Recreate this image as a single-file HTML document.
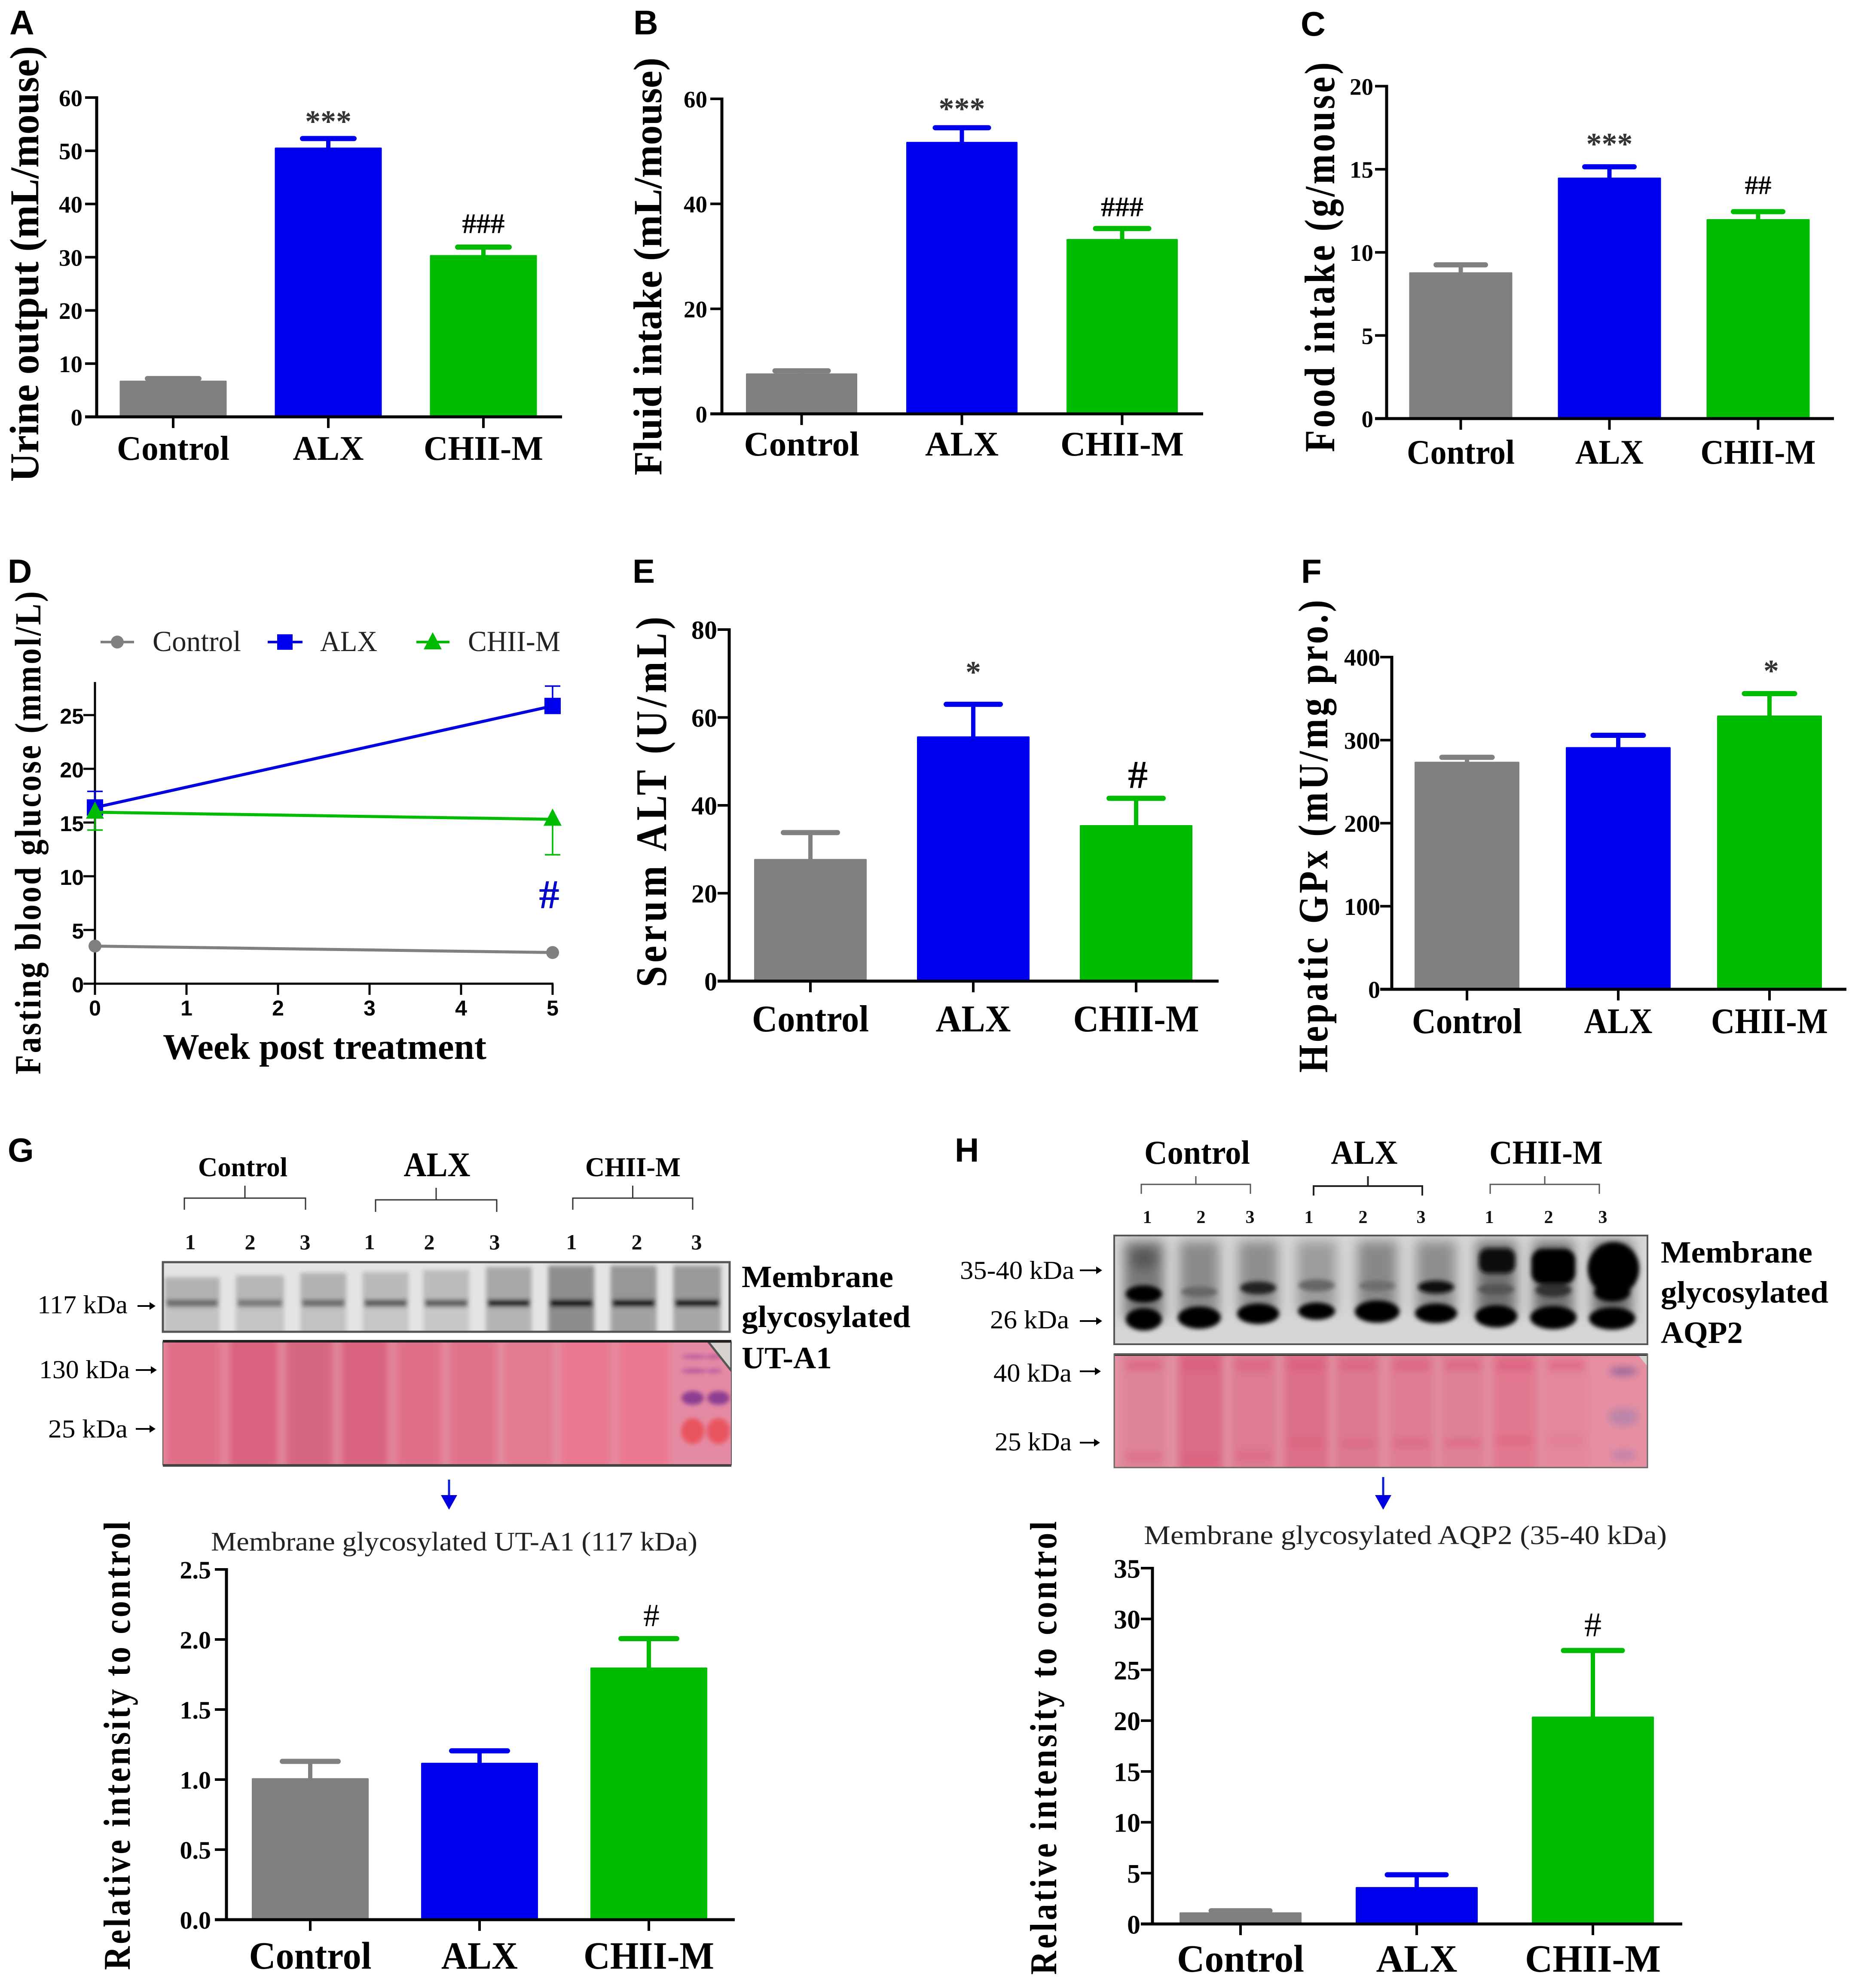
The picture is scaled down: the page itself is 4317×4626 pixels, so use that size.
<!DOCTYPE html>
<html lang="en">
<head>
<meta charset="utf-8">
<title>Figure panels A-H</title>
<style>
html,body{margin:0;padding:0;background:#fff;}
svg{display:block;}
text{font-family:"Liberation Serif",serif;}
</style>
</head>
<body>
<svg id="figure" xmlns="http://www.w3.org/2000/svg" width="4317" height="4626" viewBox="0 0 4317 4626">
<defs>
<filter id="blur-strong" filterUnits="userSpaceOnUse" x="0" y="2600" width="4317" height="1000"><feGaussianBlur stdDeviation="9"/></filter>
<filter id="blur-wide" filterUnits="userSpaceOnUse" x="0" y="2600" width="4317" height="1000"><feGaussianBlur stdDeviation="14"/></filter>
<filter id="blur-mid" filterUnits="userSpaceOnUse" x="0" y="2600" width="4317" height="1000"><feGaussianBlur stdDeviation="5"/></filter>
<clipPath id="clip-g-upper"><rect x="379" y="2937" width="1319" height="162"/></clipPath>
<clipPath id="clip-g-pink"><rect x="379" y="3121" width="1323" height="290"/></clipPath>
<clipPath id="clip-h-upper"><rect x="2593" y="2875" width="1241" height="253"/></clipPath>
<clipPath id="clip-h-pink"><rect x="2593" y="3151" width="1241" height="264"/></clipPath>
</defs>
</svg>
<script>
// ---------- chart data ----------
const categories = ['Control', 'ALX', 'CHII-M'];

const panelAValues = [6.8, 50.6, 30.4];
const panelAErrors = [0.4, 1.7, 1.5];
const panelATicks = [0, 10, 20, 30, 40, 50, 60];
const panelATickLabels = ['0', '10', '20', '30', '40', '50', '60'];
const panelAMarks = ['', '***', '###'];

const panelBValues = [7.7, 51.8, 33.3];
const panelBErrors = [0.5, 2.7, 2.0];
const panelBTicks = [0, 20, 40, 60];
const panelBTickLabels = ['0', '20', '40', '60'];
const panelBMarks = ['', '***', '###'];

const panelCValues = [8.8, 14.5, 12.0];
const panelCErrors = [0.45, 0.65, 0.45];
const panelCTicks = [0, 5, 10, 15, 20];
const panelCTickLabels = ['0', '5', '10', '15', '20'];
const panelCMarks = ['', '***', '##'];

const panelEValues = [27.8, 55.7, 35.5];
const panelEErrors = [6.0, 7.3, 6.1];
const panelETicks = [0, 20, 40, 60, 80];
const panelETickLabels = ['0', '20', '40', '60', '80'];
const panelEMarks = ['', '*', '#'];

const panelFValues = [274, 291.6, 329.6];
const panelFErrors = [5.3, 14.2, 26.4];
const panelFTicks = [0, 100, 200, 300, 400];
const panelFTickLabels = ['0', '100', '200', '300', '400'];
const panelFMarks = ['', '', '*'];

const panelGValues = [1.01, 1.12, 1.80];
const panelGErrors = [0.12, 0.085, 0.206];
const panelGTicks = [0, 0.5, 1, 1.5, 2, 2.5];
const panelGTickLabels = ['0.0', '0.5', '1.0', '1.5', '2.0', '2.5'];
const panelGMarks = ['', '', '#'];

const panelHValues = [1.14, 3.63, 20.4];
const panelHErrors = [0.16, 1.21, 6.5];
const panelHTicks = [0, 5, 10, 15, 20, 25, 30, 35];
const panelHTickLabels = ['0', '5', '10', '15', '20', '25', '30', '35'];
const panelHMarks = ['', '', '#'];

const panelDWeeks = [0, 5];
const panelDControl = [3.5, 2.9];
const panelDAlx = [16.4, 25.85];
const panelDAlxUpper = [17.9, 27.7];
const panelDChii = [15.96, 15.3];
const panelDChiiLower = [14.3, 12.0];
const panelDYTicks = [0, 5, 10, 15, 20, 25];
const panelDYTickLabels = ['0', '5', '10', '15', '20', '25'];
const panelDXTicks = [0, 1, 2, 3, 4, 5];
const panelDXTickLabels = ['0', '1', '2', '3', '4', '5'];

// ---------- helpers ----------
const SVG_NS = 'http://www.w3.org/2000/svg';
const root = document.getElementById('figure');
const seriesColors = ['#808080', '#0000f0', '#00bc00'];

function make(parent, tag, attrs, name) {
  const el = document.createElementNS(SVG_NS, tag);
  for (const key in attrs) el.setAttribute(key, attrs[key]);
  
  
  parent.appendChild(el);
  return el;
}
function label(parent, str, attrs, name) {
  const el = make(parent, 'text', attrs, name);
  el.textContent = str;
  return el;
}
function fitted(parent, str, x, y, anchorCenter, size, width, weight, name, fill) {
  const attrs = {
    x: x, y: y, 'font-size': size, 'font-weight': weight,
    fill: fill || '#000', 'text-anchor': anchorCenter ? 'middle' : 'start',
    textLength: width, lengthAdjust: 'spacingAndGlyphs'
  };
  return label(parent, str, attrs, name);
}
function panelLetter(str, x, y, size) {
  label(root, str, {
    x: x, y: y, 'font-size': size, 'font-weight': 'bold', fill: '#000',
    style: 'font-family:"Liberation Sans",sans-serif'
  }, 'panel-letter-' + str.toLowerCase());
}
function yTitle(parent, str, cfg, name) {
  const stretch = cfg.stretch || 1;
  label(parent, str, {
    x: 0, y: 0, 'font-size': cfg.size, 'font-weight': 'bold', fill: '#000',
    transform: 'translate(' + cfg.x + ' ' + cfg.bottom + ') rotate(-90) scale(1 ' + stretch + ')',
    textLength: cfg.bottom - cfg.top, lengthAdjust: cfg.adjust || 'spacingAndGlyphs'
  }, name);
}

// ---------- bar panels ----------
function drawBarPanel(id, layout, values, errors, ticks, tickLabels, marks) {
  const g = make(root, 'g', {}, 'bar-panel-' + id);
  const maxTick = ticks[ticks.length - 1];
  const yScale = function (v) { return layout.y0 - (layout.y0 - layout.yTop) * v / maxTick; };
  const xBand = function (i) { return layout.cx0 + layout.step * i; };

  values.forEach(function (v, i) {
    const cx = xBand(i);
    const top = yScale(v);
    const capY = yScale(v + errors[i]);
    const color = seriesColors[i];
    make(g, 'line', { x1: cx, x2: cx, y1: capY, y2: top + 4, stroke: color, 'stroke-width': 10 }, 'error-stem-' + categories[i].toLowerCase());
    make(g, 'line', { x1: cx - layout.capW / 2 + 5, x2: cx + layout.capW / 2 - 5, y1: capY, y2: capY, stroke: color, 'stroke-width': 12, 'stroke-linecap': 'round' }, 'error-cap-' + categories[i].toLowerCase());
    make(g, 'rect', { x: cx - layout.barW / 2, y: top, width: layout.barW, height: layout.y0 - top, fill: color, rx: 2 }, 'bar-' + categories[i].toLowerCase());
    if (marks[i]) {
      const m = layout.marks[marks[i]];
      label(g, marks[i], {
        x: cx + (m.dx || 0), y: capY - m.gap, 'font-size': m.size, 'font-weight': m.weight || 'bold',
        'text-anchor': 'middle', fill: marks[i].charAt(0) === '*' ? '#333' : '#000'
      }, 'significance-' + categories[i].toLowerCase());
    }
    make(g, 'line', { x1: cx, x2: cx, y1: layout.y0, y2: layout.y0 + 26, stroke: '#000', 'stroke-width': 6 }, 'x-tick-' + categories[i].toLowerCase());
    fitted(g, categories[i], cx, layout.catBase, true, layout.catSize, layout.catW[i], 'bold', 'x-label-' + categories[i].toLowerCase());
  });
  make(g, 'line', { x1: layout.x0, x2: layout.x0, y1: layout.yTop - 3, y2: layout.y0 + 3, stroke: '#000', 'stroke-width': 7 }, 'y-axis');
  make(g, 'line', { x1: layout.x0 - 27, x2: layout.xEnd, y1: layout.y0, y2: layout.y0, stroke: '#000', 'stroke-width': 7 }, 'x-axis');
  ticks.forEach(function (t, i) {
    const y = yScale(t);
    make(g, 'line', { x1: layout.x0 - 27, x2: layout.x0, y1: y, y2: y, stroke: '#000', 'stroke-width': 6 }, 'y-tick');
    label(g, tickLabels[i], {
      x: layout.tickEnd, y: y + layout.tickSize * 0.36, 'font-size': layout.tickSize,
      'font-weight': 'bold', 'text-anchor': 'end', fill: '#000'
    }, 'y-tick-label');
  });
  yTitle(g, layout.title, layout.titleCfg, 'y-axis-title');
}

drawBarPanel('a', {
  x0: 225, xEnd: 1308, y0: 970, yTop: 227, cx0: 403, step: 361, barW: 249, capW: 130,
  tickEnd: 192, tickSize: 55, catBase: 1070, catSize: 80, catW: [262, 165, 278],
  title: 'Urine output (mL/mouse)', titleCfg: { x: 89, top: 107, bottom: 1121, size: 95 },
  marks: { '***': { size: 72, gap: 16 }, '###': { size: 66, gap: 33 } }
}, panelAValues, panelAErrors, panelATicks, panelATickLabels, panelAMarks);

drawBarPanel('b', {
  x0: 1680, xEnd: 2800, y0: 963, yTop: 230, cx0: 1865.5, step: 373, barW: 259, capW: 134,
  tickEnd: 1646, tickSize: 55, catBase: 1060, catSize: 80, catW: [268, 171, 287],
  title: 'Fluid intake (mL/mouse)', titleCfg: { x: 1539, top: 134, bottom: 1106, size: 93 },
  marks: { '***': { size: 72, gap: 20 }, '###': { size: 66, gap: 29 } }
}, panelBValues, panelBErrors, panelBTicks, panelBTickLabels, panelBMarks);

drawBarPanel('c', {
  x0: 3227, xEnd: 4268, y0: 974, yTop: 200.5, cx0: 3399.5, step: 346, barW: 240, capW: 125,
  tickEnd: 3196, tickSize: 55, catBase: 1079, catSize: 80, catW: [251, 159, 268],
  title: 'Food intake (g/mouse)', titleCfg: { x: 3105, top: 145, bottom: 1052, size: 84, stretch: 1.18, adjust: 'spacing' },
  marks: { '***': { size: 72, gap: 29 }, '##': { size: 62, gap: 41 } }
}, panelCValues, panelCErrors, panelCTicks, panelCTickLabels, panelCMarks);

drawBarPanel('e', {
  x0: 1697, xEnd: 2836, y0: 2283, yTop: 1465, cx0: 1886, step: 379, barW: 262, capW: 136,
  tickEnd: 1669, tickSize: 60, catBase: 2400, catSize: 88, catW: [272, 175, 293],
  title: 'Serum ALT (U/mL)', titleCfg: { x: 1550, top: 1435, bottom: 2297, size: 88, stretch: 1.16, adjust: 'spacing' },
  marks: { '*': { size: 72, gap: 51 }, '#': { size: 92, gap: 24, dx: 4 } }
}, panelEValues, panelEErrors, panelETicks, panelETickLabels, panelEMarks);

drawBarPanel('f', {
  x0: 3239, xEnd: 4297, y0: 2302, yTop: 1529, cx0: 3414, step: 352, barW: 244, capW: 127,
  tickEnd: 3212, tickSize: 56, catBase: 2404, catSize: 84, catW: [256, 159, 272],
  title: 'Hepatic GPx (mU/mg pro.)', titleCfg: { x: 3089, top: 1396, bottom: 2496, size: 84, stretch: 1.16, adjust: 'spacing' },
  marks: { '*': { size: 72, gap: 29, dx: 4 } }
}, panelFValues, panelFErrors, panelFTicks, panelFTickLabels, panelFMarks);

drawBarPanel('g', {
  x0: 527, xEnd: 1710, y0: 4467, yTop: 3652, cx0: 722, step: 394, barW: 272, capW: 140,
  tickEnd: 491, tickSize: 58, catBase: 4581, catSize: 90, catW: [285, 178, 304],
  title: 'Relative intensity to control', titleCfg: { x: 302, top: 3540, bottom: 4584, size: 76, stretch: 1.16, adjust: 'spacing' },
  marks: { '#': { size: 75, gap: 29, weight: 'normal', dx: 6 } }
}, panelGValues, panelGErrors, panelGTicks, panelGTickLabels, panelGMarks);

drawBarPanel('h', {
  x0: 2682, xEnd: 3915, y0: 4477, yTop: 3649, cx0: 2887, step: 410, barW: 284, capW: 147,
  tickEnd: 2654, tickSize: 62, catBase: 4588, catSize: 90, catW: [296, 189, 316],
  title: 'Relative intensity to control', titleCfg: { x: 2458, top: 3540, bottom: 4595, size: 76, stretch: 1.16, adjust: 'spacing' },
  marks: { '#': { size: 80, gap: 33, weight: 'normal' } }
}, panelHValues, panelHErrors, panelHTicks, panelHTickLabels, panelHMarks);

// ---------- panel D line chart ----------
(function () {
  const g = make(root, 'g', {}, 'line-panel-d');
  const x0 = 221, x5 = 1286, y0 = 2289, y25 = 1664, yTop = 1587;
  const xScale = function (w) { return x0 + (x5 - x0) * w / 5; };
  const yScale = function (v) { return y0 - (y0 - y25) * v / 25; };
  const sans = 'font-family:"Liberation Sans",sans-serif';

  make(g, 'line', { x1: x0, x2: x0, y1: yTop, y2: y0 + 26, stroke: '#000', 'stroke-width': 5 }, 'y-axis');
  make(g, 'line', { x1: x0 - 27, x2: x5 + 2, y1: y0, y2: y0, stroke: '#000', 'stroke-width': 5 }, 'x-axis');
  panelDYTicks.forEach(function (t, i) {
    const y = yScale(t);
    make(g, 'line', { x1: x0 - 27, x2: x0, y1: y, y2: y, stroke: '#000', 'stroke-width': 5 }, 'y-tick');
    label(g, panelDYTickLabels[i], { x: 195, y: y + 20, 'font-size': 50, 'font-weight': 'bold', 'text-anchor': 'end', fill: '#000', style: sans }, 'y-tick-label');
  });
  panelDXTicks.forEach(function (t, i) {
    const x = xScale(t);
    make(g, 'line', { x1: x, x2: x, y1: y0, y2: y0 + 26, stroke: '#000', 'stroke-width': 5 }, 'x-tick');
    label(g, panelDXTickLabels[i], { x: x, y: 2363, 'font-size': 50, 'font-weight': 'bold', 'text-anchor': 'middle', fill: '#000', style: sans }, 'x-tick-label');
  });

  function seriesLine(values, color, name) {
    const pts = panelDWeeks.map(function (w, i) { return xScale(w) + ',' + yScale(values[i]); }).join(' ');
    make(g, 'polyline', { points: pts, fill: 'none', stroke: color, 'stroke-width': 7 }, name);
  }
  function errorBar(w, from, to, color, name) {
    const x = xScale(w);
    make(g, 'line', { x1: x, x2: x, y1: yScale(from), y2: yScale(to), stroke: color, 'stroke-width': 3.5 }, name);
    make(g, 'line', { x1: x - 18, x2: x + 18, y1: yScale(to), y2: yScale(to), stroke: color, 'stroke-width': 3.5 }, name + '-cap');
  }
  function triangle(parent, cx, cy, color, name) {
    const pts = [[cx, cy - 25], [cx + 21, cy + 15], [cx - 21, cy + 15]].map(function (p) { return p.join(','); }).join(' ');
    make(parent, 'polygon', { points: pts, fill: color }, name);
  }

  seriesLine(panelDControl, seriesColors[0], 'series-control-line');
  panelDWeeks.forEach(function (w, i) {
    make(g, 'circle', { cx: xScale(w), cy: yScale(panelDControl[i]), r: 15, fill: seriesColors[0] }, 'point-control');
  });
  panelDWeeks.forEach(function (w, i) {
    errorBar(w, panelDAlx[i], panelDAlxUpper[i], '#0000e0', 'error-alx');
    make(g, 'rect', { x: xScale(w) - 19, y: yScale(panelDAlx[i]) - 19, width: 38, height: 38, fill: seriesColors[1] }, 'point-alx');
  });
  seriesLine(panelDAlx, '#0000e0', 'series-alx-line');
  panelDWeeks.forEach(function (w, i) {
    errorBar(w, panelDChii[i], panelDChiiLower[i], seriesColors[2], 'error-chii-m');
    triangle(g, xScale(w), yScale(panelDChii[i]), seriesColors[2], 'point-chii-m');
  });
  seriesLine(panelDChii, seriesColors[2], 'series-chii-m-line');

  label(g, '#', { x: 1278, y: 2113, 'font-size': 95, 'font-weight': 'bold', 'text-anchor': 'middle', fill: '#0000c8' }, 'significance-week-5');
  fitted(g, 'Week post treatment', 379, 2464, false, 85, 753, 'bold', 'x-axis-title');
  yTitle(g, 'Fasting blood glucose (mmol/L)', { x: 94, top: 1376, bottom: 2500, size: 74, stretch: 1.16, adjust: 'spacing' }, 'y-axis-title');

  const legend = make(g, 'g', {}, 'legend');
  const ly = 1494;
  make(legend, 'line', { x1: 234, x2: 312, y1: ly, y2: ly, stroke: seriesColors[0], 'stroke-width': 6 }, 'legend-line-control');
  make(legend, 'circle', { cx: 273, cy: ly, r: 15, fill: seriesColors[0] }, 'legend-marker-control');
  fitted(legend, 'Control', 355, 1515, false, 68, 206, 'normal', 'legend-entry-control', '#222');
  make(legend, 'line', { x1: 623, x2: 704, y1: ly, y2: ly, stroke: '#0000e0', 'stroke-width': 6 }, 'legend-line-alx');
  make(legend, 'rect', { x: 645, y: ly - 18, width: 36, height: 36, fill: seriesColors[1] }, 'legend-marker-alx');
  fitted(legend, 'ALX', 745, 1515, false, 68, 133, 'normal', 'legend-entry-alx', '#222');
  make(legend, 'line', { x1: 969, x2: 1046, y1: ly, y2: ly, stroke: seriesColors[2], 'stroke-width': 6 }, 'legend-line-chii-m');
  triangle(legend, 1007, ly + 2, seriesColors[2], 'legend-marker-chii-m');
  fitted(legend, 'CHII-M', 1089, 1515, false, 68, 215, 'normal', 'legend-entry-chii-m', '#222');
})();

// ---------- panel letters ----------
panelLetter('A', 22, 80, 80);
panelLetter('B', 1474, 80, 80);
panelLetter('C', 3027, 83, 80);
panelLetter('D', 18, 1356, 78);
panelLetter('E', 1472, 1356, 78);
panelLetter('F', 3028, 1356, 78);
panelLetter('G', 18, 2703, 78);
panelLetter('H', 2222, 2703, 78);

// ---------- blot annotations ----------
function bracket(parent, left, right, y, tickTop, drop, color, width) {
  const cx = (left + right) / 2;
  make(parent, 'path', {
    d: 'M' + left + ' ' + drop + 'V' + y + 'H' + right + 'V' + drop + 'M' + cx + ' ' + y + 'V' + tickTop,
    fill: 'none', stroke: color, 'stroke-width': width
  }, 'lane-group-bracket');
}
function smallArrow(parent, x1, x2, y) {
  make(parent, 'line', { x1: x1, x2: x2 - 8, y1: y, y2: y, stroke: '#000', 'stroke-width': 4 }, 'marker-arrow-shaft');
  make(parent, 'polygon', { points: x2 + ',' + y + ' ' + (x2 - 14) + ',' + (y - 9) + ' ' + (x2 - 14) + ',' + (y + 9), fill: '#000' }, 'marker-arrow-head');
}
function blueArrow(parent, x, y1, y2) {
  make(parent, 'line', { x1: x, x2: x, y1: y1, y2: y2 - 26, stroke: '#0a1fd0', 'stroke-width': 5 }, 'blue-arrow-shaft');
  make(parent, 'polygon', { points: x + ',' + y2 + ' ' + (x - 19) + ',' + (y2 - 34) + ' ' + (x + 19) + ',' + (y2 - 34), fill: '#0000e0' }, 'blue-arrow-head');
}
function laneNumbers(parent, xs, y, size) {
  xs.forEach(function (x, i) {
    label(parent, String(i % 3 + 1), { x: x, y: y, 'font-size': size, 'font-weight': 'bold', 'text-anchor': 'middle', fill: '#111' }, 'lane-number');
  });
}

// ---------- blot G ----------
(function () {
  const g = make(root, 'g', {}, 'blot-panel-g');
  fitted(g, 'Control', 565, 2737, true, 63, 208, 'bold', 'group-label-control');
  fitted(g, 'ALX', 1017, 2737, true, 80, 155, 'bold', 'group-label-alx');
  fitted(g, 'CHII-M', 1473, 2737, true, 63, 222, 'bold', 'group-label-chii-m');
  bracket(g, 429, 711, 2788, 2759, 2815, '#333', 3);
  bracket(g, 874, 1156, 2792, 2764, 2820, '#333', 3);
  bracket(g, 1333, 1612, 2788, 2759, 2815, '#333', 3);
  laneNumbers(g, [443, 582, 710, 860, 999, 1151, 1330, 1482, 1621], 2907, 50);

  // upper blot
  const upClip = make(g, 'g', { 'clip-path': 'url(#clip-g-upper)' }, 'western-blot-ut-a1');
  make(upClip, 'rect', { x: 379, y: 2937, width: 1319, height: 162, fill: '#e4e4e4' }, 'blot-background');
  const up = make(upClip, 'g', { filter: 'url(#blur-mid)' }, 'blot-lanes');
  const upLanes = [
    [383, 511, 2972, '#b2b2b2', '#c2c2c2', '#6a6a6a'],
    [549, 661, 2968, '#b6b6b6', '#c4c4c4', '#787878'],
    [699, 806, 2962, '#b2b2b2', '#c2c2c2', '#6c6c6c'],
    [844, 951, 2960, '#bababa', '#c6c6c6', '#5c5c5c'],
    [985, 1092, 2955, '#bcbcbc', '#c8c8c8', '#5c5c5c'],
    [1131, 1237, 2948, '#a8a8a8', '#b4b4b4', '#141414'],
    [1276, 1383, 2945, '#8e8e8e', '#8c8c8c', '#000'],
    [1421, 1528, 2945, '#979797', '#a2a2a2', '#000'],
    [1567, 1678, 2945, '#9a9a9a', '#a6a6a6', '#040404']
  ];
  upLanes.forEach(function (l) {
    make(up, 'rect', { x: l[0], y: l[2], width: l[1] - l[0], height: 3030 - l[2], fill: l[3] }, 'blot-lane-upper');
    make(up, 'rect', { x: l[0], y: 3030, width: l[1] - l[0], height: 80, fill: l[4] }, 'blot-lane-lower');
    make(up, 'rect', { x: l[0] + 4, y: 3024, width: l[1] - l[0] - 8, height: 17, fill: l[5] }, 'blot-band');
  });
  make(g, 'rect', { x: 379, y: 2937, width: 1319, height: 162, fill: 'none', stroke: '#555', 'stroke-width': 5 }, 'blot-frame');

  // pink blot
  const pinkClip = make(g, 'g', { 'clip-path': 'url(#clip-g-pink)' }, 'ponceau-stain-ut-a1');
  make(pinkClip, 'rect', { x: 379, y: 3121, width: 1323, height: 290, fill: '#e48fa2' }, 'stain-background');
  const pink = make(pinkClip, 'g', { filter: 'url(#blur-strong)' }, 'stain-lanes');
  const gaps = [375, 524, 656, 785, 913, 1037, 1165, 1297, 1430, 1567];
  const pinkFill = ['#e07088', '#d9627e', '#d56680', '#d9637f', '#df7088', '#e0728a', '#e37a90', '#e9778f', '#ec7890'];
  pinkFill.forEach(function (fill, i) {
    make(pink, 'rect', { x: gaps[i] + 9, y: 3110, width: gaps[i + 1] - gaps[i] - 18, height: 310, fill: fill }, 'stain-lane');
  });
  make(pink, 'rect', { x: 1567, y: 3110, width: 140, height: 310, fill: '#e58aa4' }, 'ladder-lane');
  const ladder = make(pinkClip, 'g', { filter: 'url(#blur-mid)' }, 'ladder-bands');
  [[1615, 3157, 30, 3], [1662, 3157, 20, 3], [1615, 3190, 30, 4], [1662, 3190, 18, 3]].forEach(function (b) {
    make(ladder, 'ellipse', { cx: b[0], cy: b[1], rx: b[2], ry: b[3] + 2, fill: '#b0509c', opacity: 0.8 }, 'ladder-thin-band');
  });
  [1612, 1672].forEach(function (x) {
    make(ladder, 'ellipse', { cx: x, cy: 3253, rx: 26, ry: 16, fill: '#8c3c92' }, 'ladder-purple-band');
    make(ladder, 'ellipse', { cx: x, cy: 3330, rx: 27, ry: 30, fill: '#ea5058', opacity: 0.9 }, 'ladder-red-band');
  });
  make(pinkClip, 'polygon', { points: '1648,3122 1702,3122 1702,3190', fill: '#d6d2ce', stroke: '#555', 'stroke-width': 5 }, 'blot-corner');
  make(g, 'line', { x1: 379, x2: 1702, y1: 3121, y2: 3121, stroke: '#222', 'stroke-width': 6 }, 'stain-frame-top');
  make(g, 'line', { x1: 379, x2: 1702, y1: 3410, y2: 3410, stroke: '#444', 'stroke-width': 6 }, 'stain-frame-bottom');
  make(g, 'line', { x1: 379, x2: 379, y1: 3121, y2: 3410, stroke: '#555', 'stroke-width': 2 }, 'stain-frame-left');
  make(g, 'line', { x1: 1702, x2: 1702, y1: 3121, y2: 3410, stroke: '#555', 'stroke-width': 2 }, 'stain-frame-right');

  // markers
  fitted(g, '117 kDa', 87, 3056, false, 60, 210, 'normal', 'marker-label-117');
  smallArrow(g, 320, 362, 3039);
  fitted(g, '130 kDa', 91, 3207, false, 60, 211, 'normal', 'marker-label-130');
  smallArrow(g, 316, 365, 3188);
  fitted(g, '25 kDa', 112, 3345, false, 60, 185, 'normal', 'marker-label-25');
  smallArrow(g, 316, 362, 3325);

  fitted(g, 'Membrane', 1726, 2995, false, 72, 353, 'bold', 'blot-caption-membrane');
  fitted(g, 'glycosylated', 1726, 3088, false, 72, 393, 'bold', 'blot-caption-glycosylated');
  fitted(g, 'UT-A1', 1726, 3184, false, 72, 210, 'bold', 'blot-caption-ut-a1');
  blueArrow(g, 1045, 3443, 3513);
  fitted(g, 'Membrane glycosylated UT-A1 (117 kDa)', 491, 3608, false, 62, 1132, 'normal', 'chart-title-ut-a1', '#222');
})();

// ---------- blot H ----------
(function () {
  const g = make(root, 'g', {}, 'blot-panel-h');
  fitted(g, 'Control', 2786, 2708, true, 78, 246, 'bold', 'group-label-control');
  fitted(g, 'ALX', 3175, 2708, true, 78, 155, 'bold', 'group-label-alx');
  fitted(g, 'CHII-M', 3598, 2708, true, 78, 264, 'bold', 'group-label-chii-m');
  bracket(g, 2656, 2910, 2756, 2737, 2778, '#555', 3);
  bracket(g, 3057, 3310, 2760, 2737, 2782, '#222', 4);
  bracket(g, 3468, 3722, 2756, 2737, 2778, '#555', 3);
  laneNumbers(g, [2670, 2795, 2909, 3046, 3172, 3307, 3466, 3604, 3730], 2846, 42);

  const upClip = make(g, 'g', { 'clip-path': 'url(#clip-h-upper)' }, 'western-blot-aqp2');
  make(upClip, 'rect', { x: 2593, y: 2875, width: 1241, height: 253, fill: '#d6d6d6' }, 'blot-background');
  const soft = make(upClip, 'g', { filter: 'url(#blur-wide)' }, 'blot-smears');
  const centers = [2662, 2791, 2928, 3064, 3205, 3342, 3482, 3615, 3752];
  const smear = ['#787878', '#8a8a8a', '#8e8e8e', '#9c9c9c', '#888888', '#8e8e8e', '#707070', '#707070', '#707070'];
  const topBand = [3070, 3066, 3057, 3051, 3052, 3056, 3063, 3066, 3068];
  const midBand = [3011, 3006, 2997, 2991, 2992, 2995, 3000, 3002, 3007];
  centers.forEach(function (cx, i) {
    make(soft, 'rect', { x: cx - 46, y: 2888, width: 92, height: topBand[i] - 2888, fill: smear[i] }, 'blot-smear');
  });
  make(soft, 'ellipse', { cx: 2662, cy: 2928, rx: 34, ry: 26, fill: '#555' }, 'blot-smear-dark');
  const sharp = make(upClip, 'g', { filter: 'url(#blur-mid)' }, 'blot-bands');
  const midFill = ['#000', '#666', '#222', '#666', '#6e6e6e', '#111', '#555', '#333', '#000'];
  const midHeight = [20, 12, 15, 14, 12, 15, 13, 16, 22];
  const bandW = [42, 50, 49, 43, 52, 49, 49, 54, 54];
  const bandH = [26, 26, 24, 20, 26, 23, 26, 27, 26];
  centers.forEach(function (cx, i) {
    make(sharp, 'ellipse', { cx: cx, cy: midBand[i], rx: 42, ry: midHeight[i], fill: midFill[i] }, 'blot-middle-band');
    make(sharp, 'ellipse', { cx: cx, cy: topBand[i], rx: bandW[i], ry: bandH[i], fill: '#000' }, 'blot-main-band');
  });
  make(sharp, 'rect', { x: 3442, y: 2905, width: 84, height: 58, rx: 20, fill: '#0a0a0a' }, 'blot-dark-smear-lane-7');
  make(sharp, 'rect', { x: 3564, y: 2906, width: 102, height: 82, rx: 26, fill: '#000' }, 'blot-dark-smear-lane-8');
  make(sharp, 'ellipse', { cx: 3755, cy: 2952, rx: 60, ry: 62, fill: '#000' }, 'blot-dark-smear-lane-9');
  make(g, 'rect', { x: 2593, y: 2875, width: 1241, height: 253, fill: 'none', stroke: '#555', 'stroke-width': 4 }, 'blot-frame');

  const pinkClip = make(g, 'g', { 'clip-path': 'url(#clip-h-pink)' }, 'ponceau-stain-aqp2');
  make(pinkClip, 'rect', { x: 2593, y: 3151, width: 1241, height: 264, fill: '#e291a3' }, 'stain-background');
  const pink = make(pinkClip, 'g', { filter: 'url(#blur-strong)' }, 'stain-lanes');
  const pinkCenters = [2662, 2794, 2918, 3040, 3160, 3285, 3404, 3525, 3645];
  const pinkFill = ['#de8498', '#db6c85', '#dd7b92', '#dc7088', '#dc7a90', '#de7d93', '#df8196', '#e2788f', '#e4879b'];
  const lowBand = [3390, 3395, 3388, 3358, 3358, 3358, 3358, 3352, 3352];
  pinkCenters.forEach(function (cx, i) {
    make(pink, 'rect', { x: cx - 52, y: 3140, width: 104, height: 290, fill: pinkFill[i] }, 'stain-lane');
    make(pink, 'rect', { x: cx - 42, y: lowBand[i] - 9, width: 84, height: 18, fill: '#dc5a78', opacity: i === 8 ? 0.25 : 0.55 }, 'stain-lower-band');
    make(pink, 'rect', { x: cx - 42, y: 3166, width: 84, height: 22, fill: '#d8507a', opacity: 0.55 }, 'stain-upper-band');
  });
  make(pink, 'rect', { x: 3696, y: 3140, width: 150, height: 290, fill: '#e68fa2' }, 'ladder-lane');
  make(pink, 'ellipse', { cx: 3778, cy: 3191, rx: 34, ry: 10, fill: '#7a5a9c', opacity: 0.85 }, 'ladder-band-top');
  make(pink, 'ellipse', { cx: 3778, cy: 3297, rx: 36, ry: 22, fill: '#a080ac', opacity: 0.6 }, 'ladder-band-middle');
  make(pink, 'ellipse', { cx: 3778, cy: 3386, rx: 30, ry: 12, fill: '#a878b0', opacity: 0.6 }, 'ladder-band-bottom');
  make(pinkClip, 'polygon', { points: '3812,3152 3834,3152 3834,3180', fill: '#d6d2ce' }, 'blot-corner');
  make(g, 'line', { x1: 2593, x2: 3834, y1: 3152, y2: 3152, stroke: '#333', 'stroke-width': 6 }, 'stain-frame-top');
  make(g, 'rect', { x: 2593, y: 3151, width: 1241, height: 264, fill: 'none', stroke: '#666', 'stroke-width': 3 }, 'stain-frame');

  fitted(g, '35-40 kDa', 2234, 2976, false, 60, 266, 'normal', 'marker-label-35-40');
  smallArrow(g, 2513, 2565, 2956);
  fitted(g, '26 kDa', 2304, 3091, false, 60, 184, 'normal', 'marker-label-26');
  smallArrow(g, 2513, 2565, 3074);
  fitted(g, '40 kDa', 2312, 3215, false, 60, 182, 'normal', 'marker-label-40');
  smallArrow(g, 2513, 2562, 3191);
  fitted(g, '25 kDa', 2315, 3375, false, 60, 179, 'normal', 'marker-label-25');
  smallArrow(g, 2513, 2560, 3357);

  fitted(g, 'Membrane', 3865, 2938, false, 72, 353, 'bold', 'blot-caption-membrane');
  fitted(g, 'glycosylated', 3865, 3031, false, 72, 390, 'bold', 'blot-caption-glycosylated');
  fitted(g, 'AQP2', 3865, 3125, false, 72, 191, 'bold', 'blot-caption-aqp2');
  blueArrow(g, 3219, 3437, 3513);
  fitted(g, 'Membrane glycosylated AQP2 (35-40 kDa)', 2662, 3593, false, 62, 1217, 'normal', 'chart-title-aqp2', '#222');
})();
</script>
</body>
</html>
